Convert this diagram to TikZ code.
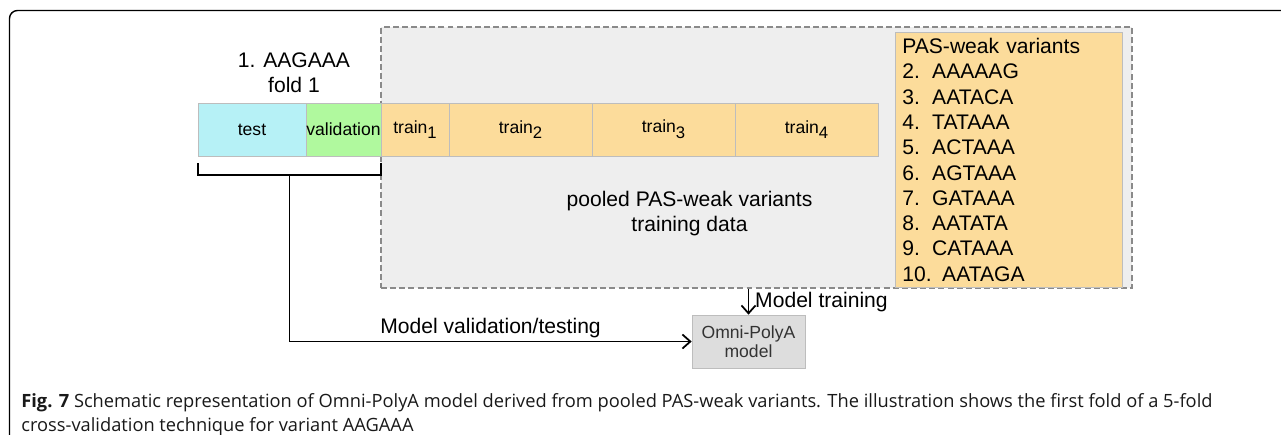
\documentclass[tikz,border=0pt]{standalone}
\usepackage{fontspec}
\setmainfont{Liberation Sans}
\newfontfamily\capfont{Open Sans}
\usepackage{xcolor}
\usepackage{tikz}
\usetikzlibrary{positioning,calc,arrows.meta}

\definecolor{testcyan}{HTML}{B6F1F6}
\definecolor{validgreen}{HTML}{B0F99E}
\definecolor{trainorange}{HTML}{FCDC9B}
\definecolor{poolgray}{HTML}{EEEEEE}
\definecolor{celledge}{HTML}{BDBDBD}
\definecolor{dashgray}{HTML}{8A8A8A}
\definecolor{modelgray}{HTML}{DDDDDD}

% lowered index after "train"
\newcommand\foldsub[1]{\raisebox{-0.32em}{\fontsize{9.5}{9.5}\selectfont #1}}
% fixed width number column in the variant list
\newcommand\vnum[1]{\makebox[17pt][l]{#1}}

\tikzset{
    cell/.style={draw=celledge, line width=0.5pt, minimum height=1.06cm, inner sep=0pt, outer sep=0pt, font=\fontsize{10}{12}\selectfont},
    big/.style={font=\fontsize{12}{14.4}\selectfont},
    link/.style={line width=1pt, -{Straight Barb[length=4.5pt,width=8pt]}},
}

\begin{document}
\begin{tikzpicture}[y=-1cm]
    \useasboundingbox (0,0) rectangle (25.62,8.68);
    % figure frame
    \draw[line width=0.8pt, rounded corners=0.16cm] (0.19,9) -- (0.19,0.21) -- (26,0.21);

    % pooled training region
    \node[draw=dashgray, fill=poolgray, dash pattern=on 3.4pt off 1.8pt, line width=0.8pt, minimum width=15.02cm, minimum height=5.22cm] (pool) at (15.13,3.15) {};
    \node[big, align=center] (pooltext) at (13.79,4.27) {pooled PAS-weak variants\\training data};

    % fold bar
    \node[cell, fill=testcyan, minimum width=2.16cm, anchor=north west] (test) at (3.96,2.06) {test};
    \node[cell, fill=validgreen, minimum width=1.50cm, right=0pt of test] (valid) {validation};
    \node[cell, fill=trainorange, minimum width=1.36cm, right=0pt of valid] (train1) {train\foldsub{1}};
    \node[cell, fill=trainorange, minimum width=2.86cm, right=0pt of train1] (train2) {train\foldsub{2}};
    \node[cell, fill=trainorange, minimum width=2.86cm, right=0pt of train2] (train3) {train\foldsub{3}};
    \node[cell, fill=trainorange, minimum width=2.86cm, right=0pt of train3] (train4) {train\foldsub{4}};
    \node[big, align=center] (fold) at (5.88,1.46) {1. AAGAAA\\fold 1};

    % variant list
    \node[draw=celledge, fill=trainorange, big, anchor=north west, minimum width=4.54cm, minimum height=5.0cm, text width=4.26cm, inner xsep=0.14cm, align=left] (variants) at (17.9,0.64) {PAS-weak variants\\
        \vnum{2.}AAAAAG\\
        \vnum{3.}AATACA\\
        \vnum{4.}TATAAA\\
        \vnum{5.}ACTAAA\\
        \vnum{6.}AGTAAA\\
        \vnum{7.}GATAAA\\
        \vnum{8.}AATATA\\
        \vnum{9.}CATAAA\\
        10. AATAGA};

    % model
    \node[draw=celledge, fill=modelgray, minimum width=2.26cm, minimum height=1.06cm, align=center, text=black!80, font=\fontsize{10}{11}\selectfont] (omni) at (14.97,6.83) {Omni-PolyA\\model};

    % bracket under test + validation
    \draw[line width=1pt] ($(test.south west)+(0,0.14)$) -- ++(0,0.24) coordinate (brl)
        -| ($(valid.south east)+(0,0.14)$);
    \coordinate (brmid) at ($(brl)!0.5!(brl -| valid.south east)$);

    \draw[link] (brmid) |- (omni.west) node[pos=0.75, above=-2pt, big] {Model validation/testing};
    \draw[link] (pool.south -| omni.north) -- (omni.north) node[midway, right, big] {Model training};

    % caption (base = last line)
    \node[anchor=base west, align=left, inner sep=0pt, text=black!90, font=\capfont\fontsize{10.4}{13.6}\selectfont] (caption) at (0.42,8.62)
        {{\bfseries Fig. 7} Schematic representation of Omni-PolyA model derived from pooled PAS-weak variants. The illustration shows the first fold of a 5-fold\\cross-validation technique for variant AAGAAA};
\end{tikzpicture}
\end{document}
